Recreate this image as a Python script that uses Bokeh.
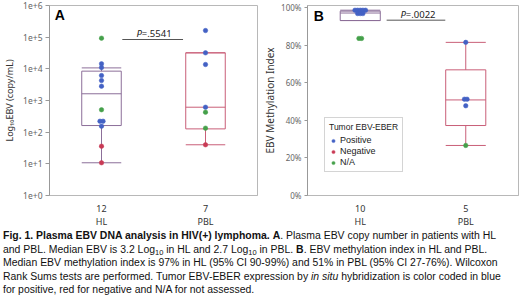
from bokeh.plotting import figure
from bokeh.models import (FixedTicker, CustomJSTickFormatter, NumeralTickFormatter, Legend,
                          LegendItem, Label, Div, ColumnDataSource, Range1d)
from bokeh.layouts import row, column
from bokeh.embed import file_html
from bokeh.resources import INLINE

# ---------------- data ----------------
groups = ["HL", "PBL"]
ebv_n = [12, 7]
meth_n = [10, 5]

# Panel A: plasma EBV copy number (copy/mL), with tumour EBV-EBER status
ebv_hl = [93000, 14400, 11000, 6150, 4270, 2830, 510, 222, 222, 155, 36, 10.8]
ebv_hl_eber = ["N/A", "Positive", "Positive", "Positive", "Positive", "Positive",
               "N/A", "Positive", "Positive", "Positive", "Negative", "Negative"]
ebv_pbl = [162000, 32000, 13700, 614, 427, 134, 40]
ebv_pbl_eber = ["Positive", "Positive", "Positive", "Positive", "N/A", "N/A", "Negative"]

# Panel A box statistics (low whisker, Q1, median, Q3, high whisker)
ebv_low = [10.8, 40]
ebv_q1 = [162, 127]
ebv_med = [1630, 614]
ebv_q3 = [8450, 32000]
ebv_high = [10700, 32000]

# Panel B: EBV methylation index
meth_hl = [0.985, 0.985, 0.985, 0.985, 0.985, 0.967, 0.967, 0.967, 0.835, 0.835]
meth_hl_eber = ["Positive", "Positive", "Positive", "Positive", "Positive",
                "Positive", "Positive", "Positive", "N/A", "N/A"]
meth_pbl = [0.814, 0.512, 0.512, 0.477, 0.266]
meth_pbl_eber = ["Positive", "Positive", "Positive", "Positive", "N/A"]

meth_low = [0.93, 0.266]
meth_q1 = [0.93, 0.372]
meth_med = [0.97, 0.508]
meth_q3 = [0.98, 0.668]
meth_high = [0.985, 0.814]

p_a = "=.5541"
p_b = "=.0022"
eber_levels = ["Positive", "Negative", "N/A"]

# ---------------- styles ----------------
COLORS = {"Positive": "#4361c4", "Negative": "#c93a55", "N/A": "#45a04a"}
BOX_COLORS = ["#8c6f99", "#c95f78"]
FONT = "Noto Sans"
TICK_COLOR = "#666666"
CENTERS = [0.5, 1.5]
HALF = 0.19
NAN = float("nan")


def spread(values, center, step):
    totals = {}
    for v in values:
        totals[v] = totals.get(v, 0) + 1
    seen = {}
    xs = []
    for v in values:
        i = seen.get(v, 0)
        seen[v] = i + 1
        xs.append(center + (i - (totals[v] - 1) / 2) * step)
    return xs


def style_fig(p):
    p.xgrid.visible = False
    p.ygrid.visible = False
    p.outline_line_color = "#b8b8b8"
    p.background_fill_color = "white"
    p.border_fill_color = "white"
    xa = p.xaxis[0]
    xa.ticker = FixedTicker(ticks=CENTERS)
    xa.major_tick_line_color = None
    xa.major_tick_out = 0
    xa.major_tick_in = 0
    xa.minor_tick_line_color = None
    xa.axis_line_color = "#b8b8b8"
    xa.major_label_standoff = 6
    xa.major_label_text_font = FONT
    xa.major_label_text_font_size = "9px"
    xa.major_label_text_line_height = 1.02
    xa.major_label_text_color = "#333333"
    ya = p.yaxis[0]
    ya.axis_line_color = "#999999"
    ya.major_tick_line_color = "#999999"
    ya.major_tick_out = 4
    ya.major_tick_in = 0
    ya.minor_tick_line_color = None
    ya.major_label_text_font = FONT
    ya.major_label_text_color = TICK_COLOR
    ya.axis_label_text_font = FONT
    ya.axis_label_text_font_style = "normal"
    ya.axis_label_text_color = "#333333"


def draw_boxes(p, low, q1, med, q3, high):
    src = ColumnDataSource(dict(
        x=CENTERS, left=[c - HALF for c in CENTERS], right=[c + HALF for c in CENTERS],
        low=low, q1=q1, med=med, q3=q3, high=high, color=BOX_COLORS))
    p.quad(left="left", right="right", bottom="q1", top="q3", source=src,
           fill_color=None, line_color="color", line_width=1)
    p.segment(x0="left", x1="right", y0="med", y1="med", source=src, line_color="color", line_width=1)
    p.segment(x0="x", x1="x", y0="q3", y1="high", source=src, line_color="color", line_width=1)
    p.segment(x0="x", x1="x", y0="q1", y1="low", source=src, line_color="color", line_width=1)
    p.segment(x0="left", x1="right", y0="high", y1="high", source=src, line_color="color", line_width=1)
    p.segment(x0="left", x1="right", y0="low", y1="low", source=src, line_color="color", line_width=1)


def draw_points(p, series, step):
    renderers = {}
    for level in eber_levels:
        xs, ys = [], []
        for (vals, eber), c in zip(series, CENTERS):
            px = spread(vals, c, step)
            for xv, yv, e in zip(px, vals, eber):
                if e == level:
                    xs.append(xv)
                    ys.append(yv)
        if not xs:  # invisible placeholder so the legend still shows the marker
            xs, ys = [NAN], [NAN]
        renderers[level] = p.scatter(xs, ys, size=4.5, fill_color=COLORS[level],
                                     line_color=COLORS[level], line_width=0.5)
    return renderers


def p_label(p, x_split, y, text):
    p.add_layout(Label(x=x_split, y=y, text="P", text_font=FONT, text_font_size="9.5px",
                       text_font_style="italic", text_align="right", text_baseline="middle",
                       text_color="#222222"))
    p.add_layout(Label(x=x_split, y=y, text=text, text_font=FONT, text_font_size="9.5px",
                       text_align="left", text_baseline="middle", text_color="#222222"))


# ---------------- panel A ----------------
pa = figure(width=260, height=236, x_range=Range1d(0, 2), y_range=Range1d(1, 1e6),
            y_axis_type="log", output_backend="svg", toolbar_location=None,
            min_border_left=42, min_border_right=3, min_border_top=5, min_border_bottom=41)
style_fig(pa)
pa.yaxis[0].ticker = FixedTicker(ticks=[1, 10, 100, 1e3, 1e4, 1e5, 1e6])
pa.yaxis[0].formatter = CustomJSTickFormatter(code="return '1e+' + Math.round(Math.log10(tick));")
pa.yaxis[0].major_label_text_font_size = "8.5px"
pa.yaxis[0].major_label_standoff = 3
pa.yaxis[0].axis_label = "Log\u2081\u2080EBV (copy/mL)"
pa.yaxis[0].axis_label_text_font_size = "9px"
pa.yaxis[0].axis_label_standoff = 4
pa.xaxis[0].formatter = CustomJSTickFormatter(args=dict(counts=ebv_n, names=groups),
    code="const i = Math.round(tick - 0.5); return counts[i] + '\\n' + names[i];")

draw_boxes(pa, ebv_low, ebv_q1, ebv_med, ebv_q3, ebv_high)
draw_points(pa, [(ebv_hl, ebv_hl_eber), (ebv_pbl, ebv_pbl_eber)], 0.03)
pa.segment(x0=[0.70], x1=[1.284], y0=[84300], y1=[84300], line_color="#555555", line_width=1)
p_label(pa, 0.888, 127600, p_a)
pa.add_layout(Label(x=0.098, y=10 ** 5.70, text="A", text_font="Liberation Sans",
                    text_font_size="14px", text_font_style="bold", text_align="center",
                    text_baseline="middle", text_color="black"))

# ---------------- panel B ----------------
pb = figure(width=260, height=236, x_range=Range1d(0, 2), y_range=Range1d(0, 1.01),
            output_backend="svg", toolbar_location=None,
            min_border_left=36, min_border_right=2, min_border_top=4, min_border_bottom=40)
style_fig(pb)
pb.yaxis[0].ticker = FixedTicker(ticks=[0, 0.2, 0.4, 0.6, 0.8, 1.0])
pb.yaxis[0].formatter = NumeralTickFormatter(format="0%")
pb.yaxis[0].major_label_text_font_size = "8px"
pb.yaxis[0].major_label_standoff = 3
pb.yaxis[0].major_tick_out = 3
pb.yaxis[0].axis_label = "EBV Methylation Index"
pb.yaxis[0].axis_label_text_font_size = "10px"
pb.yaxis[0].axis_label_standoff = 1
pb.xaxis[0].formatter = CustomJSTickFormatter(args=dict(counts=meth_n, names=groups),
    code="const i = Math.round(tick - 0.5); return counts[i] + '\\n' + names[i];")

draw_boxes(pb, meth_low, meth_q1, meth_med, meth_q3, meth_high)
rends = draw_points(pb, [(meth_hl, meth_hl_eber), (meth_pbl, meth_pbl_eber)], 0.025)
pb.segment(x0=[0.75], x1=[1.306], y0=[0.932], y1=[0.932], line_color="#555555", line_width=1)
p_label(pb, 0.932, 0.962, p_b)
pb.add_layout(Label(x=0.108, y=0.955, text="B", text_font="Liberation Sans",
                    text_font_size="14px", text_font_style="bold", text_align="center",
                    text_baseline="middle", text_color="black"))

LEG_FONT = "Liberation Sans"
legend = Legend(items=[LegendItem(label=lv, renderers=[rends[lv]]) for lv in eber_levels],
                location=(17, 23), title="Tumor EBV-EBER",
                title_text_font=LEG_FONT, title_text_font_size="8.5px", title_text_font_style="normal",
                title_text_color="#222222", title_standoff=3,
                label_text_font=LEG_FONT, label_text_font_size="9px", label_text_color="#222222",
                glyph_width=8, glyph_height=9, label_height=9, label_standoff=3, spacing=1,
                padding=4, margin=0, border_line_color="#aaaaaa", background_fill_alpha=1)
pb.add_layout(legend, "center")

# ---------------- caption ----------------
sub = "<sub style='font-size:7.5px; line-height:0; vertical-align:-2px'>10</sub>"
caption_html = (
    "<div style=\"font-family:'Liberation Sans', Arial, sans-serif; font-size:10.45px; "
    "line-height:13.6px; color:#111; white-space:nowrap;\">"
    "<b>Fig. 1. Plasma EBV DNA analysis in HIV(+) lymphoma.</b> <b>A</b>. Plasma EBV copy number in patients with HL<br>"
    "and PBL. Median EBV is 3.2 Log" + sub + " in HL and 2.7 Log" + sub + " in PBL. <b>B</b>. EBV methylation index in HL and PBL.<br>"
    "Median EBV methylation index is 97% in HL (95% CI 90-99%) and 51% in PBL (95% CI 27-76%). Wilcoxon<br>"
    "Rank Sums tests are performed. Tumor EBV-EBER expression by <i>in situ</i> hybridization is color coded in blue<br>"
    "for positive, red for negative and N/A for not assessed."
    "</div>")
caption = Div(text=caption_html, width=517, height=66, margin=(-7, 0, 0, 3))

p = column(row(pa, pb, spacing=0), caption, spacing=0)

open("out.html", "w").write(file_html(p, INLINE))
